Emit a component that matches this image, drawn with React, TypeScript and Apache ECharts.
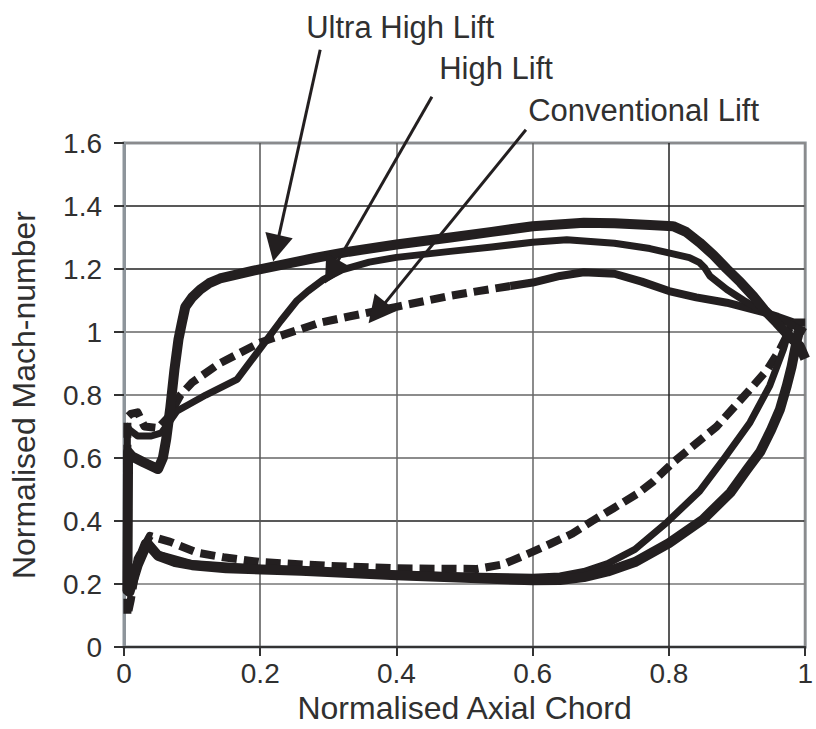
import React, { useEffect, useRef } from "react";
import * as echarts from "echarts";

// ---- data (normalised axial chord, normalised Mach number) ----
// Each loop: suction side from trailing edge to leading edge, then pressure side back to trailing edge
const ultraHighLift: number[][] = [
  [1.0, 0.915], [0.992, 0.955], [0.975, 0.99], [0.958, 1.03], [0.94, 1.07], [0.924, 1.113],
  [0.905, 1.158], [0.885, 1.2], [0.865, 1.245], [0.845, 1.284], [0.825, 1.318], [0.806, 1.336],
  [0.772, 1.34], [0.72, 1.345], [0.675, 1.347], [0.6, 1.336], [0.54, 1.318], [0.479, 1.3],
  [0.4, 1.278], [0.33, 1.255], [0.28, 1.235], [0.24, 1.217], [0.19, 1.195], [0.16, 1.18],
  [0.141, 1.17], [0.125, 1.155], [0.112, 1.135], [0.1, 1.11], [0.09, 1.08], [0.085, 1.03],
  [0.08, 0.977], [0.074, 0.88], [0.068, 0.76], [0.062, 0.66], [0.057, 0.6], [0.05, 0.565],
  [0.03, 0.585], [0.012, 0.605], [0.006, 0.62], [0.005, 0.18],
  [0.008, 0.175], [0.02, 0.26], [0.034, 0.33], [0.05, 0.29], [0.075, 0.27], [0.1, 0.26],
  [0.15, 0.25], [0.26, 0.242], [0.4, 0.228], [0.5, 0.22], [0.6, 0.212], [0.64, 0.213],
  [0.675, 0.222], [0.71, 0.24], [0.75, 0.27], [0.8, 0.33], [0.85, 0.405], [0.89, 0.49],
  [0.915, 0.565], [0.934, 0.62], [0.95, 0.69], [0.963, 0.755], [0.973, 0.83], [0.98, 0.89],
  [0.988, 0.977], [0.993, 1.02],
];

const highLift: number[][] = [
  [1.0, 1.0], [0.983, 1.02], [0.96, 1.045], [0.934, 1.07], [0.91, 1.1], [0.885, 1.135],
  [0.86, 1.178], [0.852, 1.205], [0.845, 1.22], [0.83, 1.236], [0.806, 1.248], [0.772, 1.265],
  [0.72, 1.282], [0.65, 1.293], [0.6, 1.285], [0.54, 1.27], [0.479, 1.256], [0.4, 1.237],
  [0.36, 1.222], [0.32, 1.197], [0.293, 1.167], [0.27, 1.13], [0.254, 1.1], [0.23, 1.035],
  [0.21, 0.977], [0.18, 0.89], [0.166, 0.85], [0.12, 0.8], [0.095, 0.77], [0.078, 0.75],
  [0.065, 0.71], [0.055, 0.68], [0.04, 0.67], [0.02, 0.67], [0.008, 0.69], [0.005, 0.7],
  [0.004, 0.2], [0.01, 0.22], [0.03, 0.33], [0.05, 0.295], [0.1, 0.265], [0.2, 0.25],
  [0.3, 0.24], [0.4, 0.232], [0.5, 0.226], [0.6, 0.222], [0.64, 0.226], [0.675, 0.24],
  [0.71, 0.265], [0.75, 0.31], [0.797, 0.396], [0.845, 0.495], [0.88, 0.596], [0.919, 0.713],
  [0.948, 0.83], [0.968, 0.945], [0.978, 1.02],
];

// conventional lift: solid part of the suction side (trailing edge to mid chord)
const conventionalSolid: number[][] = [
  [1.0, 1.03], [0.983, 1.03], [0.96, 1.048], [0.94, 1.062], [0.885, 1.093], [0.84, 1.11],
  [0.8, 1.13], [0.76, 1.16], [0.72, 1.185], [0.675, 1.19], [0.64, 1.178], [0.6, 1.157],
  [0.567, 1.146],
];

// conventional lift: dashed remainder (suction side forward part + pressure side)
const conventionalDashed: number[][] = [
  [0.567, 1.146], [0.52, 1.13], [0.479, 1.115], [0.4, 1.08], [0.332, 1.05], [0.288, 1.03],
  [0.2, 0.967], [0.14, 0.9], [0.1, 0.84], [0.083, 0.8], [0.065, 0.73], [0.05, 0.695],
  [0.03, 0.7], [0.02, 0.745], [0.01, 0.74], [0.005, 0.73], [0.005, 0.1],
  [0.01, 0.15], [0.02, 0.28], [0.038, 0.353], [0.068, 0.334], [0.107, 0.3], [0.146, 0.285],
  [0.2, 0.27], [0.3, 0.258], [0.4, 0.25], [0.518, 0.248], [0.557, 0.263], [0.592, 0.295],
  [0.626, 0.328], [0.658, 0.36], [0.687, 0.4], [0.718, 0.44], [0.753, 0.486], [0.776, 0.524],
  [0.806, 0.586], [0.87, 0.7], [0.919, 0.818], [0.944, 0.88], [0.963, 0.945], [0.978, 1.01],
];

const xTickColors = ["#888", "#555", "#666", "#666", "#222", "#888"];
const yTickColors = ["#333", "#777", "#222", "#666", "#666", "#666", "#222", "#222", "#888"];

// annotations (data coordinates)
const arrowLabels = ["Ultra High Lift", "High Lift", "Conventional Lift"];
const labelAnchors: number[][] = [[0.2675, 1.918], [0.4627, 1.788], [0.5933, 1.655]];
const arrowStarts: number[][] = [[0.288, 1.896], [0.452, 1.747], [0.59, 1.642]];
const arrowTips: number[][] = [[0.219, 1.224], [0.295, 1.154], [0.359, 1.028]];

const INK = "#231f20";
const TEXT = "#303030";
const FONT = "'Liberation Sans', Arial, sans-serif";

export default function App() {
  const ref = useRef<HTMLDivElement>(null);

  useEffect(() => {
    if (!ref.current) return;
    const chart = echarts.init(ref.current, undefined, { renderer: "svg" });
    const lineSeries = (name: string, data: number[][], width: number, dashed: boolean) => ({
      name,
      type: "line",
      data,
      showSymbol: false,
      symbol: "none",
      smooth: false,
      lineStyle: {
        color: INK,
        width,
        type: dashed ? [15, 7] : "solid",
        cap: "butt",
        join: "round",
      },
      emphasis: { disabled: true },
    });

    chart.setOption({
      animation: false,
      backgroundColor: "#ffffff",
      grid: {
        left: 124,
        right: 8,
        top: 143,
        bottom: 81,
        show: true,
        borderColor: "#8e959b",
        borderWidth: 3,
        backgroundColor: "transparent",
      },
      xAxis: {
        type: "value",
        min: 0,
        max: 1,
        interval: 0.2,
        name: "Normalised Axial Chord",
        nameLocation: "middle",
        nameGap: 36,
        nameTextStyle: { fontFamily: FONT, fontSize: 32, color: TEXT },
        axisLine: { show: true, lineStyle: { color: "#333", width: 2 } },
        axisTick: { show: true, length: 9, lineStyle: { color: "#333", width: 2 } },
        axisLabel: { fontFamily: FONT, fontSize: 28, color: TEXT, margin: 12 },
        splitLine: { show: true, lineStyle: { color: xTickColors, width: 1.5 } },
      },
      yAxis: {
        type: "value",
        min: 0,
        max: 1.6,
        interval: 0.2,
        name: "Normalised Mach-number",
        nameLocation: "middle",
        nameGap: 84,
        nameRotate: 90,
        nameTextStyle: { fontFamily: FONT, fontSize: 32, color: TEXT },
        axisLine: { show: true, lineStyle: { color: "#8e959b", width: 3 } },
        axisTick: { show: true, length: 10, lineStyle: { color: "#333", width: 2 } },
        axisLabel: { fontFamily: FONT, fontSize: 28, color: TEXT, margin: 22 },
        splitLine: { show: true, lineStyle: { color: yTickColors, width: 1.5 } },
      },
      series: [
        lineSeries("Conventional Lift", conventionalDashed, 8, true),
        lineSeries("Conventional Lift (solid)", conventionalSolid, 8, false),
        lineSeries("High Lift", highLift, 7, false),
        lineSeries("Ultra High Lift", ultraHighLift, 10, false),
      ],
    });

    const px = (p: number[]) => chart.convertToPixel({ gridIndex: 0 }, p) as number[];
    const graphics: any[] = [];
    arrowLabels.forEach((label, i) => {
      const s = px(arrowStarts[i]);
      const t = px(arrowTips[i]);
      const a = px(labelAnchors[i]);
      const dx = t[0] - s[0];
      const dy = t[1] - s[1];
      const len = Math.hypot(dx, dy);
      const ux = dx / len;
      const uy = dy / len;
      const L = 27;
      const W = 14;
      const bx = t[0] - ux * L;
      const by = t[1] - uy * L;
      const nx = -uy;
      const ny = ux;
      graphics.push({
        type: "line",
        shape: { x1: s[0], y1: s[1], x2: bx + ux * 2, y2: by + uy * 2 },
        style: { stroke: INK, lineWidth: 3 },
        z: 100,
      });
      graphics.push({
        type: "polygon",
        shape: {
          points: [
            [t[0], t[1]],
            [bx + nx * W, by + ny * W],
            [bx - nx * W, by - ny * W],
          ],
        },
        style: { fill: INK },
        z: 100,
      });
      graphics.push({
        type: "text",
        x: a[0],
        y: a[1],
        style: {
          text: label,
          fontFamily: FONT,
          fontSize: 31,
          fill: TEXT,
          textAlign: "left",
          textVerticalAlign: "bottom",
        },
        z: 100,
      });
    });
    chart.setOption({ graphic: graphics });

    return () => chart.dispose();
  }, []);

  return (
    <div
      ref={ref}
      style={{ position: "absolute", left: 0, top: 0, width: 816, height: 729, background: "#fff" }}
    />
  );
}
